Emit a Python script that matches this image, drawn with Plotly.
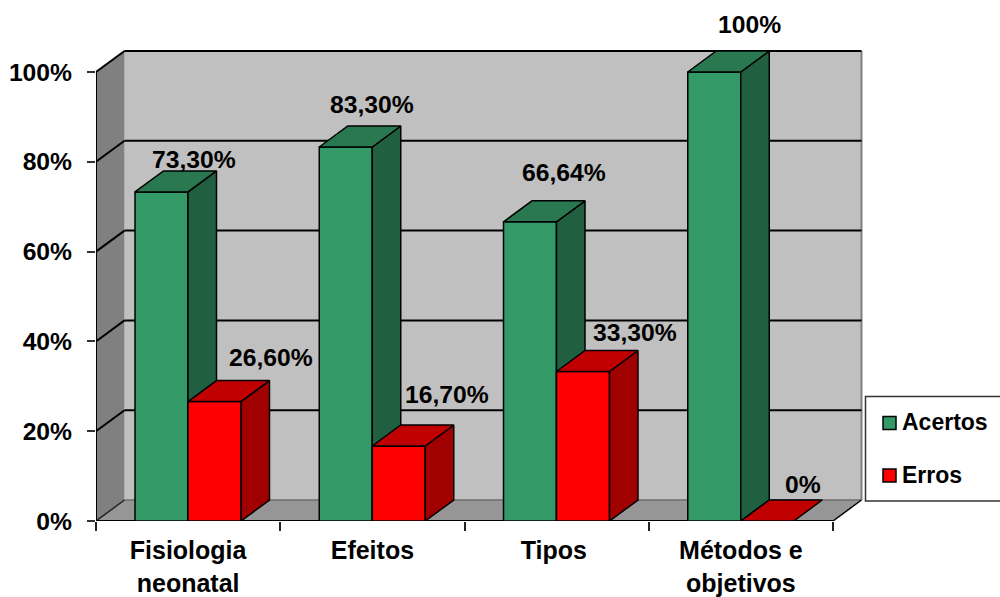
import plotly.graph_objects as go

categories = ["Fisiologia<br>neonatal", "Efeitos", "Tipos", "Métodos e<br>objetivos"]
acertos = [73.3, 83.3, 66.64, 100]
erros = [26.6, 16.7, 33.3, 0]
acertos_labels = ["73,30%", "83,30%", "66,64%", "100%"]
erros_labels = ["26,60%", "16,70%", "33,30%", "0%"]
y_ticks = [0, 20, 40, 60, 80, 100]
y_tick_labels = ["0%", "20%", "40%", "60%", "80%", "100%"]

# label offsets from bar-centre / top (pixels)
acertos_off = [(33.5, -32), (27.5, -42), (34.5, -49), (36, -48)]
erros_off = [(57.5, -44), (49.5, -52), (52.5, -39), (37, -37)]
category_positions = [0.5, 1.5, 2.485, 3.5]

W, H = 1000, 597
L, BOTTOM = 96, 521
PX_X = 184.25
PX_Y = 4.49
DX = 28.5 / PX_X
DY = 21 / PX_Y
BAR = 53 / PX_X
G_START = 39 / PX_X
X_MAX = (W - L) / PX_X
Y_MAX = BOTTOM / PX_Y
N = len(categories)
FONT = "Liberation Sans, Arial, sans-serif"


def px(x):
    return (x - L) / PX_X


def py(y):
    return (BOTTOM - y) / PX_Y


def poly(pts, fill, line="black", w=0, layer="below"):
    path = "M" + "L".join(f"{a},{b}" for a, b in pts) + "Z"
    return dict(type="path", path=path, fillcolor=fill, line=dict(color=line, width=w), layer=layer, xref="x", yref="y")


def seg(a, b, c, d, color="black", w=2, layer="below"):
    return dict(type="line", x0=a, y0=b, x1=c, y1=d, line=dict(color=color, width=w), layer=layer, xref="x", yref="y")


shapes = [
    poly([(N + DX, DY), (DX, DY), (DX, 100 + DY), (N + DX, 100 + DY)], "#c0c0c0"),
    poly([(0, 0), (DX, DY), (DX, 100 + DY), (0, 100)], "#808080"),
    poly([(0, 0), (DX, DY), (N + DX, DY), (N, 0)], "#969696"),
    seg(DX, DY, N + DX, DY, "#6e6e6e", 1.5),
    seg(N + DX, DY, N + DX, 100 + DY, "#808080", 2),
]
for t in y_ticks[1:]:
    shapes.append(seg(0, t, DX, t + DY))
    shapes.append(seg(DX, t + DY, N + DX, t + DY))
shapes += [
    seg(0, 0, DX, DY, "#222222", 1.5),
    seg(N, 0, N + DX, DY, "black", 1.5),
    seg(0, 0, 0, 100, "black", 2),
    seg(0, 0, N, 0, "black", 2),
]

fig = go.Figure()


def add_series(values, name, start, front, side, top, xa, ya):
    xs = [i + start + BAR / 2 for i in range(N)]
    fig.add_trace(go.Bar(x=xs, y=values, width=BAR, name=name, marker=dict(color=front, line=dict(color="black", width=1.5)),
                         showlegend=False, xaxis=xa, yaxis=ya))
    for i, v in enumerate(values):
        x0, x1 = i + start, i + start + BAR
        if v > 0:
            fig.add_trace(go.Scatter(x=[x1, x1 + DX, x1 + DX, x1, x1], y=[0, DY, v + DY, v, 0], mode="lines", fill="toself",
                                     fillcolor=side, line=dict(color="black", width=1.5), showlegend=False, hoverinfo="skip", xaxis=xa, yaxis=ya))
        fig.add_trace(go.Scatter(x=[x0, x0 + DX, x1 + DX, x1, x0], y=[v, v + DY, v + DY, v, v], mode="lines", fill="toself",
                                 fillcolor=top, line=dict(color="black", width=1.5), showlegend=False, hoverinfo="skip", xaxis=xa, yaxis=ya))


add_series(acertos, "Acertos", G_START, "#339966", "#206040", "#2a7850", "x", "y")
add_series(erros, "Erros", G_START + BAR, "#ff0000", "#a00000", "#c00000", "x2", "y2")

annotations = []
for vals, labels, offs, start in [(acertos, acertos_labels, acertos_off, G_START), (erros, erros_labels, erros_off, G_START + BAR)]:
    for i, (v, t, o) in enumerate(zip(vals, labels, offs)):
        annotations.append(dict(x=i + start + BAR / 2, y=v, text=t, showarrow=False, xshift=o[0] - 1, yshift=-o[1], xref="x", yref="y",
                                font=dict(family=FONT, size=24.7, color="black", weight=600)))

# legend box
shapes.append(dict(type="rect", x0=px(865.5), x1=px(1001), y0=py(396.5), y1=py(501), xref="x", yref="y",
                   fillcolor="white", line=dict(color="#333333", width=1.5), layer="above"))
for name, color, yy in [("Acertos", "#339966", 423), ("Erros", "#ff0000", 475.5)]:
    shapes.append(dict(type="rect", x0=px(883), x1=px(896), y0=py(yy - 6.5), y1=py(yy + 6.5), xref="x", yref="y",
                       fillcolor=color, line=dict(color="black", width=1.5), layer="above"))
    annotations.append(dict(x=px(899.5), y=py(yy - 1), text=name, showarrow=False, xanchor="left", xref="x", yref="y",
                            font=dict(family=FONT, size=23, color="black", weight=600)))

axis_font = dict(family=FONT, size=24.7, color="black", weight=600)
x_font = dict(family=FONT, size=25, color="black", weight=600)
fig.update_layout(
    width=W, height=H, margin=dict(l=L, r=0, t=0, b=H - BOTTOM, pad=0),
    paper_bgcolor="white", plot_bgcolor="white", barmode="overlay", showlegend=False,
    shapes=shapes, annotations=annotations,
    xaxis=dict(range=[0, X_MAX], tickvals=category_positions, ticktext=categories, ticks="", tickfont=x_font,
               showgrid=False, zeroline=False, showline=False, ticklabelstandoff=12,
               minor=dict(tickvals=list(range(N + 1)), ticks="outside", ticklen=9, tickcolor="#222222", tickwidth=1.5, showgrid=False)),
    yaxis=dict(range=[0, Y_MAX], tickvals=y_ticks, ticktext=y_tick_labels, ticks="outside", ticklen=8, tickwidth=1.5, tickcolor="#333333",
               tickfont=axis_font, showgrid=False, zeroline=False, showline=False, ticklabelstandoff=10),
    xaxis2=dict(overlaying="x", matches="x", visible=False),
    yaxis2=dict(overlaying="y", matches="y", visible=False),
)

fig.write_html("out.html", config=dict(displayModeBar=False),
               post_script="document.body.style.margin='0';document.body.style.overflow='hidden';")
